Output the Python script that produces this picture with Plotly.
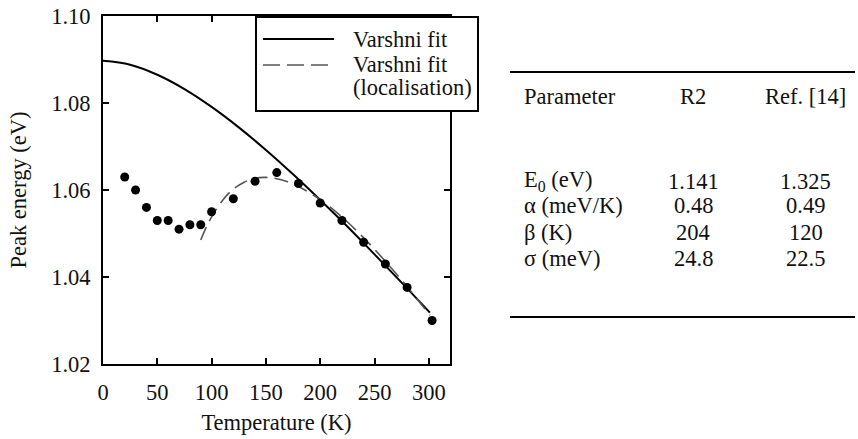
import plotly.graph_objects as go

# Measured peak energies
temps = [20, 30, 40, 50, 60, 70, 80, 90, 100, 120, 140, 160, 180, 200, 220, 240, 260, 280, 303]
energies = [1.063, 1.060, 1.056, 1.053, 1.053, 1.051, 1.052, 1.052, 1.055, 1.058, 1.062,
            1.064, 1.0615, 1.057, 1.053, 1.048, 1.043, 1.0376, 1.030]

# Varshni fit
fit_T = [0, 25, 50, 75, 100, 125, 150, 175, 200, 225, 250, 275, 301]
fit_E = [1.0897, 1.0888, 1.0865, 1.0832, 1.0791, 1.0744, 1.0692, 1.0636, 1.0577,
         1.0516, 1.0452, 1.0387, 1.0318]

# Varshni fit including localisation term
loc_T = [90, 95, 100, 110, 120, 130, 140, 150, 160, 170, 180, 200, 220, 240, 260, 280, 301]
loc_E = [1.0485, 1.0514, 1.0538, 1.0576, 1.0602, 1.0618, 1.0627, 1.0629, 1.0626, 1.0619,
         1.0608, 1.0578, 1.0538, 1.0490, 1.0436, 1.0378, 1.0312]

x_ticks = [0, 50, 100, 150, 200, 250, 300]
y_ticks = [1.02, 1.04, 1.06, 1.08, 1.10]

# Fit parameter table
table_header = ["Parameter", "R2", "Ref. [14]"]
param_names = ["E<sub>0</sub> (eV)", "α (meV/K)", "β (K)", "σ (meV)"]
r2_values = ["1.141", "0.48", "204", "24.8"]
ref_values = ["1.325", "0.49", "120", "22.5"]

W, H = 858, 439
L, T, R, B = 103, 16, 450, 364
FONT = "Liberation Serif"
INK = "#111111"
FS = 22.5


def px(x):
    return (x - L) / (R - L)


def py(y):
    return (B - y) / (B - T)


fig = go.Figure()
fig.add_trace(go.Scatter(x=fit_T, y=fit_E, mode="lines", line_shape="spline",
                         line=dict(color="black", width=2), name="Varshni fit"))
fig.add_trace(go.Scatter(x=loc_T, y=loc_E, mode="lines", line_shape="spline",
                         line=dict(color="#555555", width=1.6, dash="14px,7px"),
                         name="Varshni fit (localisation)"))
fig.add_trace(go.Scatter(x=temps, y=energies, mode="markers",
                         marker=dict(color="black", size=9), name="data"))

axis_common = dict(showline=True, linecolor="black", linewidth=2, mirror="ticks",
                   ticks="inside", ticklen=6, tickwidth=1.5, tickcolor="black",
                   showgrid=False, zeroline=False,
                   tickfont=dict(family=FONT, size=FS, color=INK),
                   title_font=dict(family=FONT, size=FS, color=INK))

fig.update_xaxes(range=[0, 319.5], tickvals=x_ticks, ticklabelstandoff=7,
                 title_text="Temperature (K)", title_standoff=10, **axis_common)
fig.update_yaxes(range=[1.02, 1.10], tickvals=y_ticks, tickformat=".2f",
                 ticklabelstandoff=6,
                 title_text="Peak energy (eV)", title_standoff=18, **axis_common)

shapes = []
annotations = []

# Legend box
shapes.append(dict(type="rect", xref="paper", yref="paper",
                   x0=px(256), x1=px(478), y0=py(111), y1=py(17),
                   line=dict(color="black", width=2), fillcolor="white", layer="above"))
shapes.append(dict(type="line", xref="paper", yref="paper",
                   x0=px(263), x1=px(334), y0=py(39), y1=py(39),
                   line=dict(color="black", width=2), layer="above"))
shapes.append(dict(type="line", xref="paper", yref="paper",
                   x0=px(263), x1=px(331), y0=py(65), y1=py(65),
                   line=dict(color="#555555", width=1.6, dash="17px,7px"), layer="above"))
for text, yy in [("Varshni fit", 39), ("Varshni fit", 65), ("(localisation)", 88)]:
    annotations.append(dict(text=text, xref="paper", yref="paper", x=px(351), y=py(yy),
                            xanchor="left", yanchor="middle", showarrow=False,
                            font=dict(family=FONT, size=FS, color=INK)))

# Table rules
for yy in (72, 317):
    shapes.append(dict(type="line", xref="paper", yref="paper",
                       x0=px(510), x1=px(855), y0=py(yy), y1=py(yy),
                       line=dict(color="black", width=2)))

col_x = [(522, "left"), (693, "center"), (806, "center")]
row_y = [181, 206, 232, 258]

for (cx, anchor), text in zip(col_x, table_header):
    annotations.append(dict(text=text, xref="paper", yref="paper", x=px(cx), y=py(97),
                            xanchor=anchor, yanchor="middle", showarrow=False,
                            font=dict(family=FONT, size=FS, color=INK)))
for i, yy in enumerate(row_y):
    for (cx, anchor), text in zip(col_x, [param_names[i], r2_values[i], ref_values[i]]):
        annotations.append(dict(text=text, xref="paper", yref="paper", x=px(cx), y=py(yy),
                                xanchor=anchor, yanchor="middle", showarrow=False,
                                font=dict(family=FONT, size=FS, color=INK)))

fig.update_layout(width=W, height=H, showlegend=False,
                  font=dict(family=FONT, size=FS, color=INK),
                  margin=dict(l=L, r=W - R, t=T, b=H - B, autoexpand=False),
                  plot_bgcolor="white", paper_bgcolor="white",
                  shapes=shapes, annotations=annotations)

fig.write_html("out.html")
